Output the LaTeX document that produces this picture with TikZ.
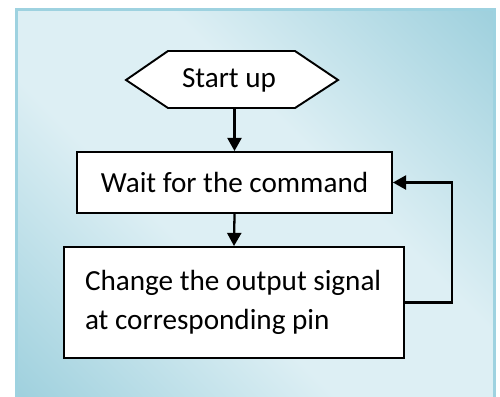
\documentclass[tikz,border=0pt]{standalone}
\usepackage{fontspec}
\setmainfont{Carlito}
\usetikzlibrary{arrows.meta}
\definecolor{paneldark}{HTML}{98CDDB}
\definecolor{panellight}{HTML}{DDEFF4}
\definecolor{panelrim}{HTML}{9ED2E0}
\pgfdeclarehorizontalshading{panelshade}{100bp}{color(0bp)=(paneldark); color(12bp)=(paneldark); color(41bp)=(panellight); color(59bp)=(panellight); color(88bp)=(paneldark); color(100bp)=(paneldark)}
\tikzset{
  stepbox/.style={draw, line width=1.1pt, fill=white, inner sep=0pt},
  flow/.style={line width=1.3pt, -{Triangle[width=8pt,length=7.5pt]}}
}
\begin{document}
\begin{tikzpicture}[x=0.02cm, y=-0.02cm, font=\fontsize{16.6}{22.3}\selectfont, line join=miter]
\useasboundingbox (0,0) rectangle (500,396);
\clip (0,0) rectangle (500,396);
\shade[shading=panelshade, shading angle=45, draw=panelrim, line width=1.7pt] (16.5,9.5) rectangle (494.5,402);
\def\hx{229} \def\hy{80}
\filldraw[fill=white, line width=1.1pt] (126,\hy) -- (168,51) -- (295,51) -- (338,\hy) -- (295,108) -- (168,108) -- cycle;
\node (start) at (\hx,\hy) [minimum width=2.54cm, minimum height=1.14cm, inner sep=0pt] {Start up};
\node[stepbox, minimum width=6.3cm, minimum height=1.22cm] (wait) at (234.5,182.5) {Wait for the command};
\node[stepbox, minimum width=6.8cm, minimum height=2.22cm, text width=5.96cm, align=flush left, inner xsep=0.42cm] (change) at (234,302.5) {Change the output signal\\at corresponding pin};
\draw[flow] (start.south -| wait.north) -- (wait.north);
\draw[flow] (wait.south) -- (change.north);
\coordinate (loop) at (452,0);
\draw[flow] (change.east) -- (change.east -| loop) |- (wait.east);
\end{tikzpicture}
\end{document}
